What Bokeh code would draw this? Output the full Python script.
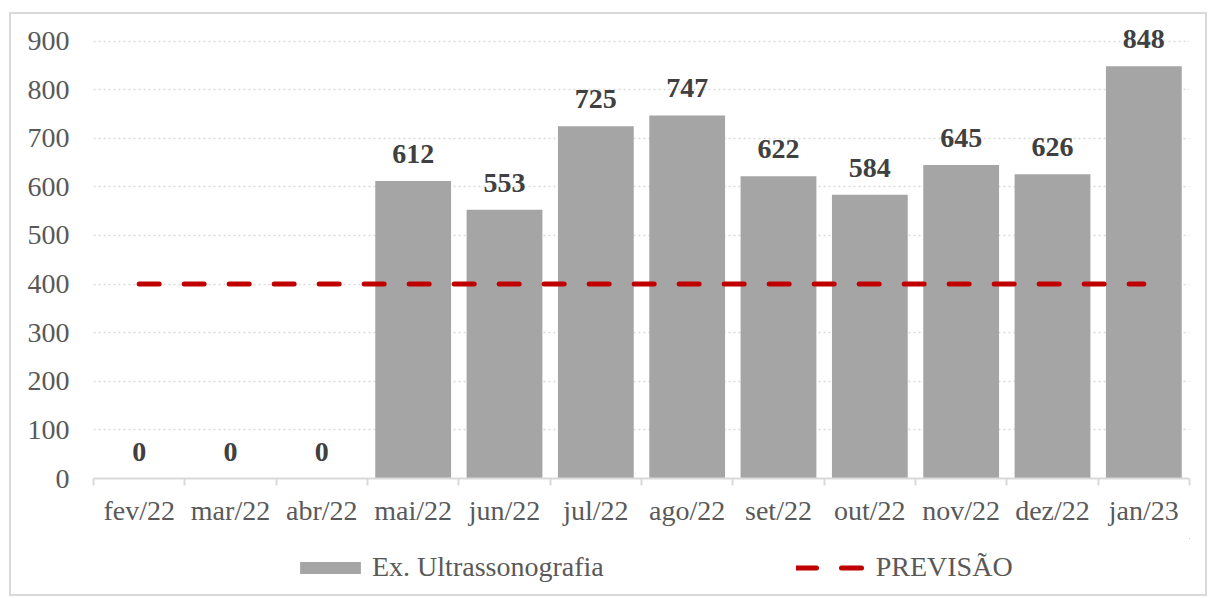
from bokeh.plotting import figure
from bokeh.models import ColumnDataSource, FixedTicker, Legend, LegendItem, Range1d
from bokeh.layouts import column
from bokeh.embed import file_html
from bokeh.resources import INLINE
from bokeh.core.properties import value

months = ["fev/22", "mar/22", "abr/22", "mai/22", "jun/22", "jul/22",
          "ago/22", "set/22", "out/22", "nov/22", "dez/22", "jan/23"]
exames = [0, 0, 0, 612, 553, 725, 747, 622, 584, 645, 626, 848]
previsao = [400] * 12
y_ticks = [0, 100, 200, 300, 400, 500, 600, 700, 800, 900]
legend_labels = ["Ex. Ultrassonografia", "PREVISÃO"]

n = len(months)
centers = [i + 0.5 for i in range(n)]
src = ColumnDataSource(dict(x=centers, m=months, v=exames, p=previsao,
                            lbl=[str(v) for v in exames]))

FONT = "Liberation Serif"
BAR = "#A5A5A5"
RED = "#C00000"

p = figure(width=1194, height=524, output_backend="svg", toolbar_location=None,
           x_range=Range1d(0, n), y_range=Range1d(0, 930),
           min_border_left=82, min_border_right=16, min_border_top=12, min_border_bottom=60)
p.outline_line_color = None

p.vbar(x="x", top="v", width=0.83, source=src, fill_color=BAR, line_color=None)
p.line(x="x", y="p", source=src, line_color=RED, line_width=5,
       line_dash="20 25", line_cap="round")
p.text(x="x", y="v", text="lbl", source=src, text_align="center", text_baseline="alphabetic",
       y_offset=-27, text_font=value(FONT), text_font_style="bold", text_font_size="28px",
       text_color="#404040")

# y axis
p.yaxis.ticker = FixedTicker(ticks=y_ticks)
p.yaxis.axis_line_color = None
p.yaxis.major_tick_line_color = None
p.yaxis.minor_tick_line_color = None
p.yaxis.major_tick_out = 0
p.yaxis.major_label_standoff = 24
p.yaxis.major_label_text_font = FONT
p.yaxis.major_label_text_font_size = "28px"
p.yaxis.major_label_text_color = "#595959"

# x axis
p.xaxis.ticker = FixedTicker(ticks=centers, minor_ticks=list(range(n + 1)))
p.xaxis.major_label_overrides = {c: m for c, m in zip(centers, months)}
p.xaxis.axis_line_color = "#D9D9D9"
p.xaxis.axis_line_width = 2
p.xaxis.major_tick_line_color = None
p.xaxis.major_tick_out = 0
p.xaxis.minor_tick_line_color = "#D9D9D9"
p.xaxis.minor_tick_line_width = 2
p.xaxis.minor_tick_out = 7
p.xaxis.minor_tick_in = 0
p.xaxis.major_label_standoff = 9
p.xaxis.major_label_text_font = FONT
p.xaxis.major_label_text_font_size = "28px"
p.xaxis.major_label_text_color = "#595959"

p.xgrid.grid_line_color = None
p.ygrid.grid_line_color = "#D9D9D9"
p.ygrid.grid_line_dash = "2 3"
p.ygrid.grid_line_width = 1.5

# legend strip: a separate figure whose ranges lie far outside the data, so its
# renderers draw nothing in the strip and only serve the legend
pl = figure(width=1194, height=56, output_backend="svg", toolbar_location=None,
            x_axis_type=None, y_axis_type=None, min_border=0,
            x_range=Range1d(-1000, -999), y_range=Range1d(-100000, -99999))
pl.outline_line_color = None
pl.grid.grid_line_color = None
lb = pl.vbar(x="x", top="v", width=0.83, source=src, fill_color=BAR, line_color=None)
ll = pl.line(x="x", y="p", source=src, line_color=RED, line_width=5,
             line_dash="20 25", line_cap="round")
legend = Legend(items=[LegendItem(label=legend_labels[0], renderers=[lb]),
                       LegendItem(label=legend_labels[1], renderers=[ll])],
                orientation="horizontal", location=(199, 11),
                label_text_font=FONT, label_text_font_size="28px", label_text_color="#595959",
                glyph_width=76, glyph_height=15, spacing=192, label_standoff=4,
                border_line_color=None, background_fill_alpha=0, margin=0, padding=0)
pl.add_layout(legend, "center")

layout = column(p, pl, spacing=0,
                styles={"border": "2px solid #D9D9D9", "margin-left": "9px", "margin-top": "12px"})
open("out.html", "w").write(file_html(layout, INLINE))
